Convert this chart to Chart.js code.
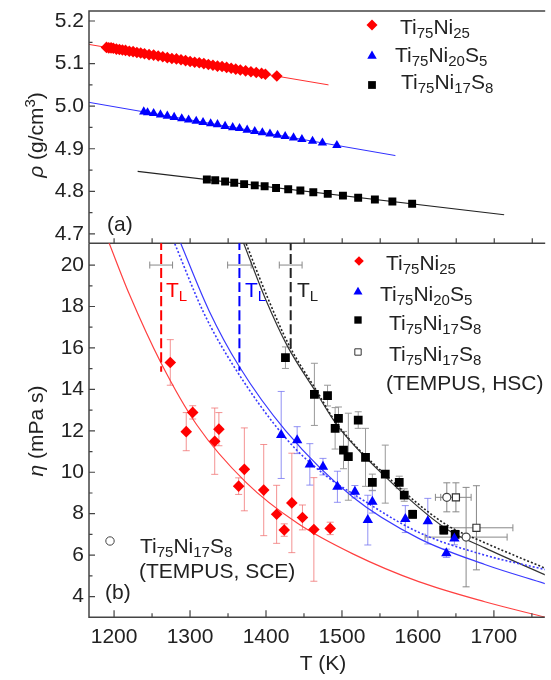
<!DOCTYPE html>
<html>
<head>
<meta charset="utf-8">
<script src="https://cdn.jsdelivr.net/npm/chart.js@4.4.0/dist/chart.umd.min.js"></script>
<style>
  body { margin: 0; background: #fff; }
  #wrap { position: relative; width: 551px; height: 680px; }
  #wrap canvas { position: absolute; left: 0; top: 0; }
</style>
</head>
<body>
<div id="wrap">
  <canvas id="rhoChart" width="551" height="680"></canvas>
  <canvas id="etaChart" width="551" height="680"></canvas>
</div>
<script>
'use strict';

const FONT = "'Liberation Sans', Arial, sans-serif";
const FS = 21; // text size

// tick values
const tTicks = [1200, 1300, 1400, 1500, 1600, 1700];
const tMinor = [1250, 1350, 1450, 1550, 1650, 1750];
const rhoTicks = [4.7, 4.8, 4.9, 5.0, 5.1, 5.2];
const rhoMinor = [4.75, 4.85, 4.95, 5.05, 5.15];
const etaTicks = [4, 6, 8, 10, 12, 14, 16, 18, 20];
const etaMinor = [5, 7, 9, 11, 13, 15, 17, 19];

// (a) density
const rhoRedT = [1190, 1193, 1196, 1199, 1203, 1207, 1211, 1215, 1220, 1225, 1230, 1235, 1240, 1246, 1252, 1258, 1264, 1270, 1276, 1282,
  1288, 1294, 1300, 1306, 1312, 1318, 1324, 1330, 1336, 1342, 1348, 1354, 1360, 1366, 1373, 1380, 1387, 1394, 1399, 1414];
const rhoRed = [5.138, 5.137, 5.137, 5.136, 5.134, 5.133, 5.132, 5.131, 5.129, 5.128, 5.126, 5.125, 5.123, 5.121, 5.120, 5.118, 5.116, 5.114, 5.112, 5.111,
  5.109, 5.107, 5.105, 5.103, 5.102, 5.100, 5.098, 5.096, 5.094, 5.093, 5.091, 5.089, 5.087, 5.085, 5.083, 5.081, 5.079, 5.077, 5.075, 5.071];
const rhoBlueT = [1239, 1244, 1252, 1261, 1270, 1279, 1289, 1298, 1308, 1317, 1327, 1336, 1346, 1356, 1365, 1375, 1385, 1395, 1405, 1415,
  1425, 1436, 1447, 1461, 1474, 1493];
const rhoBlue = [4.987, 4.985, 4.983, 4.980, 4.977, 4.974, 4.971, 4.968, 4.965, 4.962, 4.959, 4.957, 4.953, 4.950, 4.948, 4.944, 4.941, 4.938, 4.935, 4.932,
  4.929, 4.926, 4.922, 4.918, 4.914, 4.908];
const rhoBlackT = [1322, 1333, 1346, 1358, 1371, 1385, 1398, 1413, 1429, 1445, 1462, 1481, 1501, 1521, 1543, 1566, 1592];
const rhoBlack = [4.828, 4.826, 4.823, 4.820, 4.817, 4.814, 4.812, 4.808, 4.805, 4.802, 4.798, 4.794, 4.790, 4.785, 4.781, 4.776, 4.771];
// linear fits
const rhoRedFitT = [1167, 1482];
const rhoRedFit = [5.145, 5.050];
const rhoBlueFitT = [1167, 1570];
const rhoBlueFit = [5.009, 4.884];
const rhoBlackFitT = [1231, 1713];
const rhoBlackFit = [4.847, 4.745];

// (b) viscosity
const etaRedT = [1274, 1295, 1303.5, 1332.5, 1338, 1364, 1371.5, 1397, 1414, 1424, 1434, 1448, 1463, 1484.5];
const etaRed = [15.30, 11.96, 12.89, 11.5, 12.08, 9.33, 10.14, 9.14, 7.97, 7.21, 8.52, 7.82, 7.24, 7.29];
const etaRedErr = [1.1, 0.92, 0.32, 1.6, 0.8, 0.4, 2.0, 2.2, 1.4, 0.3, 2.4, 0.6, 2.5, 0.3];
const etaBlueT = [1420, 1441, 1457.7, 1475, 1494, 1517, 1534, 1540, 1583.4, 1613, 1637.4, 1648];
const etaBlue = [11.8, 11.55, 10.38, 10.27, 9.3, 9.06, 7.69, 8.58, 7.74, 7.64, 6.09, 6.8];
const etaBlueErr = [2.1, 0.65, 1.0, 0.4, 0.75, 0.3, 1.2, 0.55, 0.65, 1.1, 0.2, 0.3];
const etaBlackT = [1425.6, 1463.7, 1481, 1491, 1495.4, 1502, 1508.4, 1521.4, 1531, 1540, 1557, 1575.4, 1582, 1593, 1634, 1649];
const etaBlack = [15.53, 13.76, 13.7, 12.12, 12.6, 11.07, 10.75, 12.52, 10.72, 9.51, 9.91, 9.51, 8.9, 7.97, 7.21, 7.0];
const etaBlackErr = [0.52, 1.5, 0.5, 1.0, 0.55, 0.9, 2.1, 0.4, 1.4, 0.4, 1.4, 0.3, 0.3, 0.2, 0.2, 0.2];
// TEMPUS
const hscT = [1650, 1677];
const hsc = [8.79, 7.32];
const hscErrT = [20, 48];
const hscErr = [0.7, 2.03];
const sceT = [1638, 1663.4];
const sce = [8.79, 6.87];
const sceErrT = [15, 54];
const sceErr = [0.7, 2.4];
// liquidus temperatures
const tlT = [1262, 1365, 1432.5];
const tlLow = [14.85, 14.9, 15.9];
const tlErrT = [15, 15.5, 15];
const tlLevel = [20, 20, 20];
// fit curves
const redFitT = [1192, 1220, 1262, 1309, 1374, 1441, 1515, 1601, 1688, 1768];
const redFit = [21.2, 18.6, 15.26, 12.28, 9.5, 7.55, 6.05, 4.72, 3.75, 3.0];
const blueFitT = [1286, 1325, 1365, 1426, 1515, 1601, 1688, 1768];
const blueFit = [21.2, 17.8, 15.09, 12.0, 8.78, 6.81, 5.55, 4.62];
const blueDotT = [1278, 1318, 1358, 1428, 1480, 1515, 1601, 1688, 1768];
const blueDot = [21.2, 17.7, 15.09, 11.56, 9.8, 8.95, 7.1, 6.0, 5.3];
const blackFitT = [1369, 1400, 1428, 1467, 1493, 1558, 1636, 1688, 1768];
const blackFit = [21.2, 18.3, 16.1, 13.8, 12.3, 9.75, 7.3, 6.35, 5.04];
const blackDotT = [1372, 1403, 1430, 1468, 1493, 1558, 1636, 1688, 1768];
const blackDot = [21.2, 18.35, 16.15, 13.85, 12.35, 9.85, 7.5, 6.6, 5.36];

const pts = (xs, ys) => xs.map((x, i) => ({x, y: ys[i]}));

const RED = '#ff0000', BLUE = '#0000ff', BLACK = '#000000';

// text with sub/superscripts, parts = [[text, kind]]
function drawParts(ctx, x, y, parts, size, color, center) {
  const fontFor = k => (k === 'it' ? 'italic ' : '') + ((k === 'sub' || k === 'sup') ? Math.round(size * 0.7) : size) + 'px ' + FONT;
  let w = 0;
  parts.forEach(([t, k]) => { ctx.font = fontFor(k); w += ctx.measureText(t).width; });
  let cx = center ? x - w / 2 : x;
  ctx.fillStyle = color;
  ctx.textAlign = 'left';
  ctx.textBaseline = 'alphabetic';
  parts.forEach(([t, k]) => {
    ctx.font = fontFor(k);
    const dy = k === 'sub' ? size * 0.2 : k === 'sup' ? -size * 0.4 : 0;
    ctx.fillText(t, cx, y + dy);
    cx += ctx.measureText(t).width;
  });
}

const formula = (a, b) => {
  const p = [['Ti', ''], ['75', 'sub'], ['Ni', ''], [a, 'sub']];
  if (b) p.push(['S', ''], [b, 'sub']);
  return p;
};

function marker(ctx, style, r, x, y, fill, stroke, bw) {
  ctx.fillStyle = fill;
  ctx.strokeStyle = stroke;
  ctx.lineWidth = bw || 0;
  Chart.helpers.drawPoint(ctx, {pointStyle: style, radius: r, rotation: 0, borderWidth: bw || 0}, x, y);
}

function tickMarks(ctx, scale, values, len, vertical, base, dir) {
  ctx.beginPath();
  values.forEach(v => {
    const p = scale.getPixelForValue(v);
    if (vertical) { ctx.moveTo(base, p); ctx.lineTo(base + dir * len, p); }
    else { ctx.moveTo(p, base); ctx.lineTo(p, base + dir * len); }
  });
  ctx.stroke();
}

// error bars under the markers
const errorBars = {
  id: 'errorBars',
  beforeDatasetsDraw(chart) {
    const {ctx, chartArea: a, scales: {x, y}} = chart;
    ctx.save();
    ctx.beginPath();
    ctx.rect(a.left, a.top, a.right - a.left, a.bottom - a.top);
    ctx.clip();
    chart.data.datasets.forEach(ds => {
      if (!ds.errY && !ds.errX) return;
      ctx.strokeStyle = ds.errColor;
      ctx.lineWidth = 1;
      ds.data.forEach((p, i) => {
        const px = x.getPixelForValue(p.x), py = y.getPixelForValue(p.y);
        ctx.beginPath();
        if (ds.errY && ds.errY[i]) {
          const t = y.getPixelForValue(p.y + ds.errY[i]), b = y.getPixelForValue(p.y - ds.errY[i]);
          ctx.moveTo(px, t); ctx.lineTo(px, b);
          ctx.moveTo(px - 3.5, t); ctx.lineTo(px + 3.5, t);
          ctx.moveTo(px - 3.5, b); ctx.lineTo(px + 3.5, b);
        }
        if (ds.errX && ds.errX[i]) {
          const l = x.getPixelForValue(p.x - ds.errX[i]), r = x.getPixelForValue(p.x + ds.errX[i]);
          ctx.moveTo(l, py); ctx.lineTo(r, py);
          ctx.moveTo(l, py - 3.5); ctx.lineTo(l, py + 3.5);
          ctx.moveTo(r, py - 3.5); ctx.lineTo(r, py + 3.5);
        }
        ctx.stroke();
      });
    });
    ctx.restore();
  }
};

const topDecor = {
  id: 'topDecor',
  afterDraw(chart) {
    const {ctx, chartArea: a, scales: {x, y}} = chart;
    ctx.save();
    ctx.strokeStyle = '#444';
    ctx.lineWidth = 1.5;
    ctx.beginPath();
    ctx.moveTo(a.left, a.bottom); ctx.lineTo(a.left, a.top); ctx.lineTo(a.right, a.top);
    ctx.moveTo(a.left, a.bottom); ctx.lineTo(a.right, a.bottom);
    ctx.stroke();
    ctx.lineWidth = 1.2;
    tickMarks(ctx, y, rhoTicks, 6, true, a.left, 1);
    tickMarks(ctx, y, rhoMinor, 3.5, true, a.left, 1);
    tickMarks(ctx, x, tTicks.concat(tMinor), 5, false, a.bottom, -1);

    drawParts(ctx, 107, 231, [['(a)', '']], FS, '#222');
    // legend
    marker(ctx, 'rectRot', 5.5, 372, 25, RED, RED);
    drawParts(ctx, 400, 34, formula('25'), FS, '#222');
    marker(ctx, 'triangle', 5.5, 372, 56, BLUE, BLUE);
    drawParts(ctx, 395, 61.5, formula('20', '5'), FS, '#222');
    marker(ctx, 'rect', 5.5, 372, 85, BLACK, BLACK);
    drawParts(ctx, 401, 89, formula('17', '8'), FS, '#222');

    // axis title
    ctx.translate(36, 135);
    ctx.rotate(-Math.PI / 2);
    drawParts(ctx, 0, 7, [['ρ', 'it'], [' (g/cm', ''], ['3', 'sup'], [')', '']], FS, '#222', true);
    ctx.restore();
  }
};

const bottomDecor = {
  id: 'bottomDecor',
  afterDraw(chart) {
    const {ctx, chartArea: a, scales: {x, y}} = chart;
    ctx.save();
    ctx.strokeStyle = '#444';
    ctx.lineWidth = 1.5;
    ctx.beginPath();
    ctx.moveTo(a.left, a.top); ctx.lineTo(a.left, a.bottom); ctx.lineTo(a.right, a.bottom);
    ctx.stroke();
    ctx.lineWidth = 1.2;
    tickMarks(ctx, y, etaTicks, 6, true, a.left, 1);
    tickMarks(ctx, y, etaMinor, 3.5, true, a.left, 1);
    tickMarks(ctx, x, tTicks, 7, false, a.bottom, -1);
    tickMarks(ctx, x, tMinor, 4, false, a.bottom, -1);

    // T_L labels
    const tl = [['T', ''], ['L', 'sub']];
    drawParts(ctx, 166, 297, tl, FS, RED);
    drawParts(ctx, 245, 297, tl, FS, BLUE);
    drawParts(ctx, 297, 297, tl, FS, '#222');

    // legend
    marker(ctx, 'rectRot', 4.8, 359, 261, RED, RED);
    drawParts(ctx, 386, 270, formula('25'), FS, '#222');
    marker(ctx, 'triangle', 5.2, 358, 292, BLUE, BLUE);
    drawParts(ctx, 380, 301, formula('20', '5'), FS, '#222');
    marker(ctx, 'rect', 5.2, 358, 320, BLACK, BLACK);
    drawParts(ctx, 389, 330, formula('17', '8'), FS, '#222');
    marker(ctx, 'rect', 4.5, 358, 352, '#fff', '#333', 1);
    drawParts(ctx, 389, 361, formula('17', '8'), FS, '#222');
    drawParts(ctx, 386, 390, [['(TEMPUS, HSC)', '']], FS, '#222');

    marker(ctx, 'circle', 4.2, 110, 541, '#fff', '#444', 1);
    drawParts(ctx, 140, 553, formula('17', '8'), FS, '#222');
    drawParts(ctx, 139, 578, [['(TEMPUS, SCE)', '']], FS, '#222');
    drawParts(ctx, 105, 599, [['(b)', '']], FS, '#222');

    drawParts(ctx, 323, 670, [['T (K)', '']], FS, '#222', true);
    ctx.translate(36, 431);
    ctx.rotate(-Math.PI / 2);
    drawParts(ctx, 0, 7, [['η', 'it'], [' (mPa s)', '']], FS, '#222', true);
    ctx.restore();
  }
};

const tickFont = {family: FONT, size: FS};

function xAxis(display) {
  const axis = {
    type: 'linear', min: 1167, max: 1767, display,
    grid: {display: false, drawTicks: false}, border: {display: false},
    afterBuildTicks: s => { s.ticks = tTicks.map(v => ({value: v})); },
    ticks: {font: tickFont, color: '#222', padding: 7, callback: v => String(v)}
  };
  if (display) {
    axis.afterFit = s => { s.height = 680 - 617.3; s.paddingLeft = 0; s.paddingRight = 0; };
  }
  return axis;
}

function yAxis(min, max, ticks, fmt) {
  return {
    type: 'linear', min, max,
    grid: {display: false, drawTicks: false}, border: {display: false},
    afterBuildTicks: s => { s.ticks = ticks.map(v => ({value: v})); },
    ticks: {font: tickFont, color: '#222', padding: 5, callback: fmt},
    afterFit: s => { s.width = 89; s.paddingTop = 0; s.paddingBottom = 0; }
  };
}

const common = {
  responsive: false,
  animation: false,
  devicePixelRatio: 1,
  events: [],
  plugins: {legend: {display: false}, tooltip: {enabled: false}}
};

const fitLine = (xs, ys, color, dash, width) => ({
  data: pts(xs, ys), showLine: true, pointRadius: 0, borderColor: color,
  borderWidth: width || 1.2, borderDash: dash || [], cubicInterpolationMode: 'monotone'
});

const markers = (xs, ys, style, r, color, extra) => Object.assign({
  data: pts(xs, ys), pointStyle: style, pointRadius: r, backgroundColor: color,
  borderColor: color, borderWidth: 0
}, extra || {});

// panel (a)
new Chart(document.getElementById('rhoChart'), {
  type: 'scatter',
  data: {
    datasets: [
      markers(rhoRedT, rhoRed, 'rectRot', 5.8, RED),
      markers(rhoBlueT, rhoBlue, 'triangle', 5.4, BLUE),
      markers(rhoBlackT, rhoBlack, 'rect', 5.6, BLACK),
      fitLine(rhoRedFitT, rhoRedFit, '#ff3030', [], 1),
      fitLine(rhoBlueFitT, rhoBlueFit, '#3030ff', [], 1),
      fitLine(rhoBlackFitT, rhoBlackFit, '#222', [], 1.1)
    ]
  },
  options: Object.assign({}, common, {
    layout: {padding: {top: 11, bottom: 680 - 243.3, left: 0, right: 0}},
    scales: {
      x: xAxis(false),
      y: yAxis(4.678, 5.2235, rhoTicks, v => v.toFixed(1))
    }
  }),
  plugins: [topDecor]
});

// panel (b)
new Chart(document.getElementById('etaChart'), {
  type: 'scatter',
  data: {
    datasets: [
      markers(sceT, sce, 'circle', 4, '#fff', {borderColor: '#444', borderWidth: 1.2, errX: sceErrT, errY: sceErr, errColor: '#888'}),
      markers(hscT, hsc, 'rect', 5, '#fff', {borderColor: '#333', borderWidth: 1.2, errX: hscErrT, errY: hscErr, errColor: '#888'}),
      markers(etaRedT, etaRed, 'rectRot', 5.8, RED, {errY: etaRedErr, errColor: 'rgba(240,110,110,0.75)'}),
      markers(etaBlueT, etaBlue, 'triangle', 6, BLUE, {errY: etaBlueErr, errColor: 'rgba(110,110,240,0.75)'}),
      markers(etaBlackT, etaBlack, 'rect', 6.2, BLACK, {errY: etaBlackErr, errColor: '#999'}),
      markers(tlT, tlLevel, 'circle', 0, '#888', {errX: tlErrT, errColor: '#888'}),
      fitLine([tlT[0], tlT[0]], [21.2, tlLow[0]], RED, [10, 4], 2),
      fitLine([tlT[1], tlT[1]], [21.2, tlLow[1]], BLUE, [10, 4], 2),
      fitLine([tlT[2], tlT[2]], [21.2, tlLow[2]], '#222', [10, 4], 2),
      fitLine(redFitT, redFit, '#ff4040'),
      fitLine(blueFitT, blueFit, '#3a3aff'),
      fitLine(blueDotT, blueDot, '#3a3aff', [2, 2], 1.6),
      fitLine(blackFitT, blackFit, '#333'),
      fitLine(blackDotT, blackDot, '#222', [2, 2], 1.6)
    ]
  },
  options: Object.assign({}, common, {
    layout: {padding: {top: 243.3, bottom: 0, left: 0, right: 0}},
    scales: {
      x: xAxis(true),
      y: yAxis(3.0, 21.05, etaTicks, v => String(v))
    }
  }),
  plugins: [errorBars, bottomDecor]
});
</script>
</body>
</html>
